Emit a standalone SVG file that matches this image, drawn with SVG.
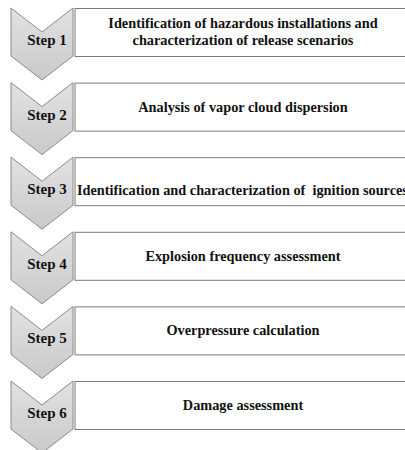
<svg xmlns="http://www.w3.org/2000/svg" width="405" height="450" viewBox="0 0 405 450">
  <defs>
    <linearGradient id="chevFill" x1="0" y1="0" x2="0" y2="1">
      <stop offset="0" stop-color="#e2e2e2"/>
      <stop offset="1" stop-color="#c9c9c9"/>
    </linearGradient>
    <!-- one chevron, reused for every step -->
    <path id="chev" d="M11,8 L42,32 L73,8 L73,56 L42,80 L11,56 Z"/>
  </defs>
  <style>
    .chev { fill: url(#chevFill); stroke: #8a8a8a; stroke-width: 1; }
    .box { fill: #ffffff; stroke: #7a7a7a; stroke-width: 1; }
    text { font-family: 'Liberation Serif', 'Times New Roman', serif; font-weight: bold; fill: #111; }
    .lbl { font-size: 15px; text-anchor: middle; }
    .desc { font-size: 14.3px; text-anchor: middle; white-space: pre; }
    .start { text-anchor: start; }
  </style>
  <rect width="405" height="450" fill="#ffffff"/>

  <g id="step1">
    <rect class="box" x="75" y="8.5" width="345" height="48"/>
    <use href="#chev" class="chev"/>
    <text class="lbl" x="47" y="45">Step 1</text>
    <text class="desc" x="243" y="28">Identification of hazardous installations and</text>
    <text class="desc" x="243" y="45">characterization of release scenarios</text>
  </g>

  <g id="step2" transform="translate(0,74.6)">
    <rect class="box" x="75" y="8.5" width="345" height="48"/>
    <use href="#chev" class="chev"/>
    <text class="lbl" x="47" y="45">Step 2</text>
    <text class="desc" x="243" y="37">Analysis of vapor cloud dispersion</text>
  </g>

  <g id="step3" transform="translate(0,149.2)">
    <rect class="box" x="75" y="8.5" width="345" height="48"/>
    <use href="#chev" class="chev"/>
    <text class="lbl" x="47" y="45">Step 3</text>
    <text class="desc start" x="77" y="46">Identification and characterization of  ignition sources</text>
  </g>

  <g id="step4" transform="translate(0,223.8)">
    <rect class="box" x="75" y="8.5" width="345" height="48"/>
    <use href="#chev" class="chev"/>
    <text class="lbl" x="47" y="45">Step 4</text>
    <text class="desc" x="243" y="37">Explosion frequency assessment</text>
  </g>

  <g id="step5" transform="translate(0,298.4)">
    <rect class="box" x="75" y="8.5" width="345" height="48"/>
    <use href="#chev" class="chev"/>
    <text class="lbl" x="47" y="45">Step 5</text>
    <text class="desc" x="243" y="37">Overpressure calculation</text>
  </g>

  <g id="step6" transform="translate(0,373)">
    <rect class="box" x="75" y="8.5" width="345" height="48"/>
    <use href="#chev" class="chev"/>
    <text class="lbl" x="47" y="45">Step 6</text>
    <text class="desc" x="243" y="37">Damage assessment</text>
  </g>

  <g id="connectors"/>
</svg>
